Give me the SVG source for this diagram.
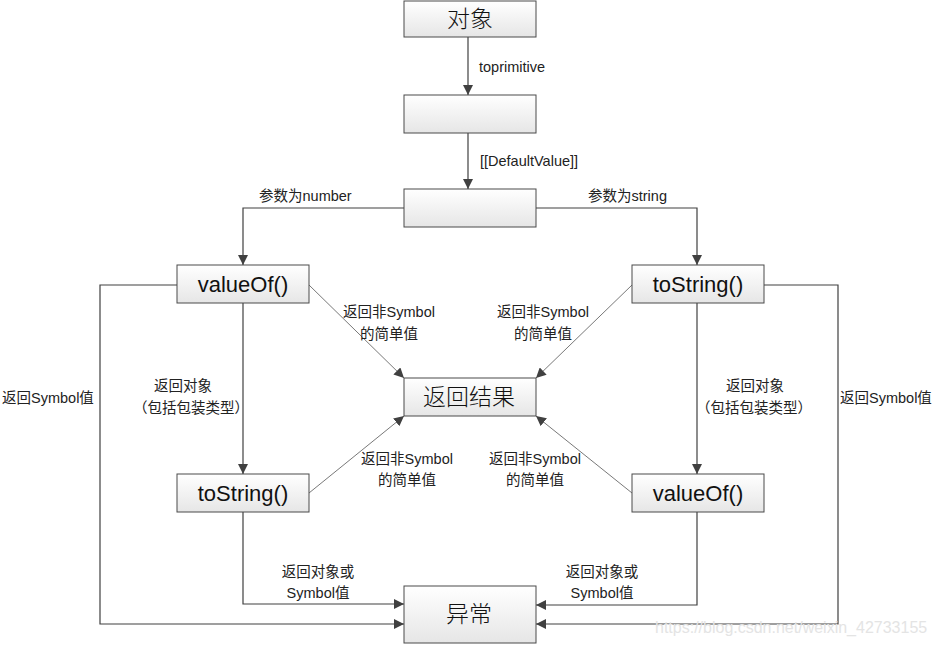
<svg xmlns="http://www.w3.org/2000/svg" width="936" height="646" viewBox="0 0 936 646">
<defs>
<linearGradient id="g" x1="0" y1="0" x2="0" y2="1">
<stop offset="0" stop-color="#ffffff"/>
<stop offset="1" stop-color="#e6e6e6"/>
</linearGradient>
<marker id="a" viewBox="0 0 10 10" refX="10" refY="5" markerWidth="10" markerHeight="10" markerUnits="userSpaceOnUse" orient="auto">
<path d="M0,0 L10,5 L0,10 z" fill="#404040"/>
</marker>
<style>
.box{fill:url(#g);stroke:#4a4a4a;stroke-width:1}
.big{font-family:"Liberation Sans","Noto Sans CJK SC",sans-serif;font-size:22px;fill:#111;text-anchor:middle}
.cjk{font-family:"Noto Sans CJK SC",sans-serif;font-size:23px;font-weight:300;fill:#111;text-anchor:middle}
.lbl{font-family:"Liberation Sans","Noto Sans CJK SC",sans-serif;font-size:14.5px;fill:#222}
.c{text-anchor:middle}
.ln{fill:none;stroke:#404040;stroke-width:1.2}
.dg{fill:none;stroke:#555;stroke-width:0.8}
</style>
</defs>
<rect width="936" height="646" fill="#fff"/>
<g id="connectors">
<path class="ln" d="M468,37 V95" marker-end="url(#a)"/>
<path class="ln" d="M468,133 V189" marker-end="url(#a)"/>
<path class="ln" d="M404,208 H243 V265" marker-end="url(#a)"/>
<path class="ln" d="M536,208 H697 V265" marker-end="url(#a)"/>
<path class="dg" d="M309,285 L404,378" marker-end="url(#a)"/>
<path class="dg" d="M632,285 L536,378" marker-end="url(#a)"/>
<path class="dg" d="M309,493 L404,416" marker-end="url(#a)"/>
<path class="dg" d="M632,493 L536,416" marker-end="url(#a)"/>
<path class="ln" d="M243,303 V474" marker-end="url(#a)"/>
<path class="ln" d="M697,303 V474" marker-end="url(#a)"/>
<path class="ln" d="M177,285 H100 V624 H404" marker-end="url(#a)"/>
<path class="ln" d="M764,285 H838 V624 H536" marker-end="url(#a)"/>
<path class="ln" d="M243,512 V604 H404" marker-end="url(#a)"/>
<path class="ln" d="M697,512 V605 H536" marker-end="url(#a)"/>
<text class="lbl" x="479" y="72">toprimitive</text>
<text class="lbl" x="480" y="166">[[DefaultValue]]</text>
<text class="lbl" x="259" y="201">参数为number</text>
<text class="lbl" x="588" y="201">参数为string</text>
<text class="lbl c" x="389" y="317">返回非Symbol</text>
<text class="lbl c" x="389" y="339">的简单值</text>
<text class="lbl c" x="543" y="317">返回非Symbol</text>
<text class="lbl c" x="543" y="339">的简单值</text>
<text class="lbl c" x="407" y="464">返回非Symbol</text>
<text class="lbl c" x="407" y="485">的简单值</text>
<text class="lbl c" x="535" y="464">返回非Symbol</text>
<text class="lbl c" x="535" y="485">的简单值</text>
<text class="lbl c" x="183" y="391">返回对象</text>
<text class="lbl c" x="191" y="413">（包括包装类型）</text>
<text class="lbl c" x="755" y="391">返回对象</text>
<text class="lbl c" x="754" y="413">（包括包装类型）</text>
<text class="lbl" x="2" y="403">返回Symbol值</text>
<text class="lbl" x="840" y="403">返回Symbol值</text>
<text class="lbl c" x="318" y="577">返回对象或</text>
<text class="lbl c" x="318" y="598">Symbol值</text>
<text class="lbl c" x="602" y="577">返回对象或</text>
<text class="lbl c" x="602" y="598">Symbol值</text>
</g>
<g id="n-object"><rect class="box" x="404" y="1" width="132" height="36"/><text class="cjk" x="470" y="27">对象</text></g>
<g id="n-toprimitive"><rect class="box" x="404" y="95" width="132" height="38"/></g>
<g id="n-default"><rect class="box" x="404" y="189" width="132" height="38"/></g>
<g id="n-valueof1"><rect class="box" x="177" y="265" width="132" height="38"/><text class="big" x="243" y="292">valueOf()</text></g>
<g id="n-tostring1"><rect class="box" x="632" y="265" width="132" height="38"/><text class="big" x="698" y="292">toString()</text></g>
<g id="n-result"><rect class="box" x="404" y="378" width="132" height="38"/><text class="cjk" x="469" y="405">返回结果</text></g>
<g id="n-tostring2"><rect class="box" x="177" y="474" width="132" height="38"/><text class="big" x="243" y="501">toString()</text></g>
<g id="n-valueof2"><rect class="box" x="632" y="474" width="132" height="38"/><text class="big" x="698" y="501">valueOf()</text></g>
<g id="n-error"><rect class="box" x="404" y="586" width="132" height="57"/><text class="cjk" x="469" y="622">异常</text></g>
<text x="655" y="633" font-family="Liberation Sans,sans-serif" font-size="16" fill="#e4e4e4">https://blog.csdn.net/weixin_42733155</text>
</svg>
